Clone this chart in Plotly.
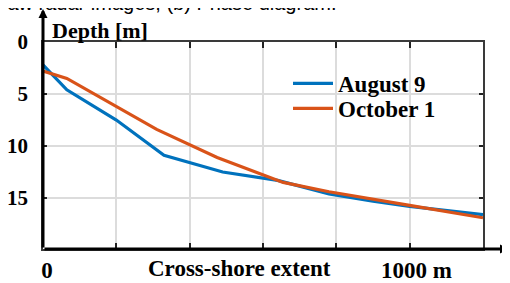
import plotly.graph_objects as go

# ---- data ----
aug_x = [0, 65, 200, 330, 490, 640, 780, 900, 1000, 1200]
aug_depth = [2.2, 4.6, 7.5, 10.9, 12.5, 13.3, 14.6, 15.3, 15.8, 16.6]

oct_x = [0, 65, 310, 475, 655, 780, 1000, 1200]
oct_depth = [2.8, 3.5, 8.4, 11.1, 13.5, 14.4, 15.7, 16.9]

x_ticks = [0, 200, 400, 600, 800, 1000, 1200]
x_ticktext = ["0", "", "", "", "", "\u00a01000 m", ""]
y_ticks = [0, 5, 10, 15]
y_ticktext = ["0", "5", "10", "15"]

SERIF = "Liberation Serif"
BLUE = "#0072BD"
ORANGE = "#D95319"
GRID = "#dcdcdc"
LEGFONT = dict(family=SERIF, size=23, color="black", weight="bold")

fig = go.Figure()
fig.add_trace(go.Scatter(x=aug_x, y=aug_depth, mode="lines", name="August 9",
                         line=dict(color=BLUE, width=3.2), legend="legend"))
fig.add_trace(go.Scatter(x=oct_x, y=oct_depth, mode="lines", name="October 1",
                         line=dict(color=ORANGE, width=3.2), legend="legend2"))

XR = [0, 1200]
YR = [19.9, 0]
# page body has an 8px margin; figure is sized/offset to compensate
OFF = 8
FW, FH = 510 - OFF, 283 - OFF
L, T, B = 43, 42, 249      # plot area in page pixels
W = 440
H = B - T


def px_x(p):
    return (p - L) / W


def px_y(p):
    return (B - p) / H


fig.update_layout(
    width=FW, height=FH,
    margin=dict(l=L - OFF, r=FW - (L - OFF) - W, t=T - OFF,
                b=FH - (B - OFF), autoexpand=False),
    paper_bgcolor="white", plot_bgcolor="white",
    showlegend=True,
    legend=dict(x=px_x(288), y=px_y(62), xanchor="left", yanchor="top",
                bgcolor="rgba(0,0,0,0)", itemwidth=40, font=LEGFONT),
    legend2=dict(x=px_x(288), y=px_y(87), xanchor="left", yanchor="top",
                 bgcolor="rgba(0,0,0,0)", itemwidth=40, font=LEGFONT),
    xaxis=dict(range=XR, tickvals=x_ticks, ticktext=x_ticktext,
               ticks="inside", ticklen=6, tickwidth=1.5, tickcolor="#222222",
               showgrid=True, gridcolor=GRID, gridwidth=1.5,
               zeroline=False, showline=True, linecolor="#3a3a3a",
               linewidth=2, mirror="ticks", automargin=False,
               ticklabelshift=4, ticklabelstandoff=-1,
               tickfont=dict(family=SERIF, size=23, color="black", weight="bold")),
    yaxis=dict(range=YR, tickvals=y_ticks, ticktext=y_ticktext,
               ticks="inside", ticklen=4, tickwidth=1.5, tickcolor="#222222",
               showgrid=True, gridcolor=GRID, gridwidth=1.5,
               zeroline=False, showline=True, linecolor="#3a3a3a",
               linewidth=1.5, mirror="ticks", automargin=False,
               ticklabelstandoff=9,
               tickfont=dict(family=SERIF, size=21, color="black", weight="bold")),
)

# axis arrows
fig.add_annotation(xref="paper", yref="paper", x=px_x(509), y=0,
                   ax=-(509 - L), ay=0,
                   showarrow=True, arrowhead=2, arrowsize=0.6, arrowwidth=3,
                   arrowcolor="black", text="", standoff=0)
fig.add_annotation(xref="paper", yref="paper", x=0, y=px_y(8),
                   ax=0, ay=B - 8, showarrow=True, arrowhead=2, arrowsize=0.6,
                   arrowwidth=3, arrowcolor="black", text="", standoff=0)

# labels
fig.add_annotation(xref="paper", yref="paper", x=px_x(50), y=1.0,
                   xanchor="left", yanchor="bottom", showarrow=False,
                   text="Depth [m]", yshift=-3,
                   font=dict(family=SERIF, size=22, color="black", weight="bold"))
fig.add_annotation(xref="paper", yref="paper", x=px_x(239), y=px_y(254),
                   xanchor="center", yanchor="top", showarrow=False,
                   text="Cross-shore extent",
                   font=dict(family=SERIF, size=23, color="black", weight="bold"))
# cut-off caption line from the source page
fig.add_annotation(xref="paper", yref="paper", x=px_x(-9), y=px_y(16),
                   xanchor="left", yanchor="bottom", showarrow=False,
                   text="Raw radar images; (b) Phase diagram.",
                   font=dict(family="Liberation Sans", size=20, color="black"))

fig.write_html("out.html")
